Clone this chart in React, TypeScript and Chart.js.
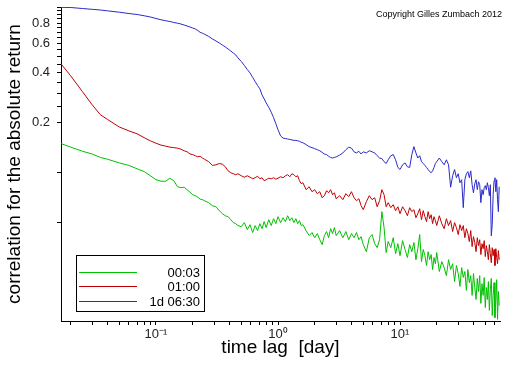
import React, { useEffect, useRef } from "react";
import { Chart, registerables } from "chart.js";

Chart.register(...registerables);

// time lag in days
const LAGS = [
  0.0167, 0.02, 0.025, 0.03, 0.035, 0.04, 0.05, 0.06, 0.07, 0.08,
  0.09, 0.1, 0.11, 0.12, 0.13, 0.14, 0.15, 0.16, 0.17, 0.18,
  0.19, 0.2, 0.21, 0.22, 0.23, 0.24, 0.25, 0.27, 0.29, 0.31,
  0.33, 0.35, 0.37, 0.39, 0.41, 0.43, 0.45, 0.47, 0.5, 0.53,
  0.56, 0.59, 0.62, 0.65, 0.68, 0.71, 0.74, 0.77, 0.8, 0.84,
  0.88, 0.92, 0.96, 1.0, 1.05, 1.1, 1.15, 1.2, 1.25, 1.3,
  1.35, 1.4, 1.45, 1.5, 1.55, 1.6, 1.7, 1.8, 1.9, 2.0,
  2.1, 2.2, 2.3, 2.4, 2.5, 2.6, 2.7, 2.8, 2.9, 3.0,
  3.2, 3.4, 3.6, 3.8, 4.0, 4.2, 4.4, 4.6, 4.8, 5.0,
  5.3, 5.6, 5.9, 6.2, 6.5, 6.8, 7.1, 7.4, 7.7, 8.0,
  8.4, 8.8, 9.2, 9.6, 10, 10.5, 11, 11.5, 12, 12.5,
  13, 13.5, 14, 14.5, 15, 15.5, 16, 16.5, 17, 17.5,
  18, 18.5, 19, 19.5, 20, 21, 22, 23, 24, 25,
  26, 27, 28, 29, 30, 31, 32, 33, 34, 35,
  36, 37, 38, 39, 40, 41, 42, 43, 44, 45,
  46, 47, 48, 49, 50, 51, 52, 53, 54, 55,
  56, 57, 58, 59, 60, 61, 62, 63, 64, 65,
];

const SERIES_LABELS = ["00:03", "01:00", "1d 06:30"];

const CORR_0003 = [
  0.149, 0.142, 0.134, 0.129, 0.123, 0.120, 0.114, 0.110, 0.105, 0.101,
  0.0953, 0.0902, 0.0883, 0.0883, 0.0921, 0.0889, 0.0818, 0.0807, 0.0813, 0.0785,
  0.0758, 0.0732, 0.0722, 0.0707, 0.0688, 0.0683, 0.0673, 0.0655, 0.0628, 0.0619,
  0.0586, 0.0562, 0.0546, 0.0539, 0.0517, 0.0496, 0.0489, 0.0476, 0.0469, 0.0496,
  0.0450, 0.0482, 0.0432, 0.0476, 0.0444, 0.0489, 0.0456, 0.0503, 0.0463, 0.0517,
  0.0476, 0.0524, 0.0489, 0.0539, 0.0496, 0.0531, 0.0503, 0.0546, 0.0510, 0.0531,
  0.0496, 0.0524, 0.0489, 0.0510, 0.0476, 0.0482, 0.0444, 0.0414, 0.0432, 0.0402,
  0.0426, 0.0391, 0.0365, 0.0414, 0.0438, 0.0402, 0.0456, 0.0426, 0.0463, 0.0414,
  0.0444, 0.0402, 0.0438, 0.0391, 0.0426, 0.0402, 0.0432, 0.0391, 0.0408, 0.0365,
  0.0331, 0.0402, 0.0420, 0.0370, 0.0350, 0.0391, 0.0578, 0.0463, 0.0327, 0.0381,
  0.0350, 0.0402, 0.0322, 0.0370, 0.0313, 0.0386, 0.0341, 0.0305, 0.0365, 0.0331,
  0.0376, 0.0296, 0.0345, 0.0420, 0.0288, 0.0341, 0.0313, 0.0273, 0.0331, 0.0296,
  0.0318, 0.0258, 0.0305, 0.0280, 0.0327, 0.0251, 0.0288, 0.0265, 0.0237, 0.0296,
  0.0258, 0.0280, 0.0218, 0.0273, 0.0244, 0.0204, 0.0265, 0.0231, 0.0251, 0.0193,
  0.0258, 0.0215, 0.0237, 0.0180, 0.0244, 0.0201, 0.0170, 0.0228, 0.0190, 0.0237,
  0.0161, 0.0212, 0.0180, 0.0231, 0.0152, 0.0201, 0.0170, 0.0218, 0.0146, 0.0195,
  0.0228, 0.0136, 0.0180, 0.0215, 0.0132, 0.0170, 0.0224, 0.0129, 0.0190, 0.0156,
];

const CORR_0100 = [
  0.452, 0.383, 0.307, 0.256, 0.223, 0.209, 0.188, 0.178, 0.171, 0.162,
  0.155, 0.150, 0.146, 0.144, 0.142, 0.141, 0.140, 0.138, 0.135, 0.133,
  0.129, 0.128, 0.126, 0.124, 0.125, 0.122, 0.120, 0.116, 0.110, 0.111,
  0.113, 0.112, 0.108, 0.102, 0.0994, 0.0980, 0.0967, 0.0980, 0.0953, 0.0934,
  0.0953, 0.0934, 0.0914, 0.0927, 0.0947, 0.0914, 0.0927, 0.0889, 0.0902, 0.0921,
  0.0914, 0.0927, 0.0908, 0.0921, 0.0940, 0.0927, 0.0953, 0.0967, 0.0940, 0.0980,
  0.0967, 0.0940, 0.0953, 0.0889, 0.0853, 0.0865, 0.0785, 0.0818, 0.0763, 0.0785,
  0.0742, 0.0763, 0.0702, 0.0722, 0.0774, 0.0752, 0.0785, 0.0732, 0.0752, 0.0692,
  0.0722, 0.0683, 0.0742, 0.0712, 0.0763, 0.0702, 0.0673, 0.0692, 0.0628, 0.0594,
  0.0664, 0.0722, 0.0683, 0.0702, 0.0619, 0.0673, 0.0785, 0.0732, 0.0619, 0.0655,
  0.0611, 0.0637, 0.0586, 0.0619, 0.0562, 0.0619, 0.0586, 0.0546, 0.0611, 0.0578,
  0.0594, 0.0531, 0.0562, 0.0602, 0.0517, 0.0586, 0.0539, 0.0503, 0.0578, 0.0524,
  0.0554, 0.0489, 0.0539, 0.0510, 0.0476, 0.0546, 0.0489, 0.0456, 0.0524, 0.0476,
  0.0510, 0.0438, 0.0496, 0.0463, 0.0420, 0.0482, 0.0444, 0.0476, 0.0402, 0.0456,
  0.0426, 0.0381, 0.0444, 0.0355, 0.0408, 0.0376, 0.0331, 0.0402, 0.0360, 0.0391,
  0.0318, 0.0370, 0.0345, 0.0386, 0.0309, 0.0360, 0.0331, 0.0296, 0.0365, 0.0322,
  0.0284, 0.0350, 0.0313, 0.0341, 0.0273, 0.0345, 0.0305, 0.0280, 0.0336, 0.0296,
];

const CORR_1D0630 = [
  0.995, 0.993, 0.979, 0.968, 0.959, 0.948, 0.930, 0.913, 0.901, 0.885,
  0.870, 0.852, 0.837, 0.826, 0.817, 0.806, 0.798, 0.789, 0.778, 0.767,
  0.757, 0.746, 0.736, 0.721, 0.703, 0.694, 0.684, 0.664, 0.641, 0.623,
  0.606, 0.589, 0.573, 0.557, 0.542, 0.527, 0.513, 0.492, 0.468, 0.443,
  0.419, 0.399, 0.375, 0.354, 0.335, 0.320, 0.294, 0.278, 0.263, 0.247,
  0.231, 0.214, 0.197, 0.181, 0.166, 0.161, 0.160, 0.159, 0.158, 0.157,
  0.156, 0.156, 0.155, 0.154, 0.152, 0.151, 0.147, 0.143, 0.141, 0.139,
  0.137, 0.135, 0.132, 0.129, 0.128, 0.125, 0.123, 0.122, 0.123, 0.124,
  0.127, 0.131, 0.137, 0.142, 0.140, 0.133, 0.131, 0.134, 0.129, 0.133,
  0.131, 0.135, 0.133, 0.131, 0.126, 0.122, 0.121, 0.116, 0.113, 0.119,
  0.126, 0.128, 0.119, 0.107, 0.104, 0.111, 0.114, 0.108, 0.107, 0.128,
  0.143, 0.131, 0.122, 0.126, 0.116, 0.113, 0.110, 0.107, 0.104, 0.101,
  0.0994, 0.102, 0.107, 0.113, 0.116, 0.122, 0.116, 0.111, 0.119, 0.111,
  0.0812, 0.0953, 0.104, 0.0927, 0.0980, 0.0865, 0.0902, 0.0611, 0.0902, 0.0980,
  0.101, 0.0927, 0.102, 0.0841, 0.0752, 0.0853, 0.0902, 0.0785, 0.0877, 0.0841,
  0.0655, 0.0785, 0.0732, 0.0807, 0.0830, 0.0785, 0.0865, 0.0807, 0.0722, 0.0841,
  0.0413, 0.0482, 0.0732, 0.0889, 0.0927, 0.0763, 0.0902, 0.0683, 0.0578, 0.0818,
];

const SERIES_COLORS = ["#00c000", "#c00000", "#2a2ac8"];

const Y_TICKS = [
  0.05, 0.1, 0.2, 0.25, 0.3, 0.35, 0.4, 0.45, 0.5, 0.55, 0.6, 0.65, 0.7,
  0.75, 0.8, 0.85, 0.9, 0.95, 1.0,
];
const Y_LABELED = [0.2, 0.4, 0.6, 0.8];

const X_TICKS = [
  0.02, 0.03, 0.04, 0.05, 0.06, 0.07, 0.08, 0.09,
  0.1, 0.2, 0.3, 0.4, 0.5, 0.6, 0.7, 0.8, 0.9,
  1, 2, 3, 4, 5, 6, 7, 8, 9,
  10, 20, 30, 40, 50, 60,
];
const X_LABEL_VALUES = [0.1, 1, 10];
const X_LABEL_TEXTS = ["10\u207B\u00B9", "10\u2070", "10\u00B9"];

const X_MIN = 0.01665;
const X_MAX = 66;
const Y_MIN = 0.0126;
const Y_MAX = 1.0;

const X_TITLE = "time lag  [day]";
const Y_TITLE = "correlation for the absolute return";
const COPYRIGHT = "Copyright Gilles Zumbach 2012";

const FONT = '"Liberation Sans", Arial, Helvetica, sans-serif';

const near = (a: number, b: number) => Math.abs(a - b) < 1e-9 * Math.max(1, Math.abs(b));

export default function App() {
  const ref = useRef<HTMLCanvasElement | null>(null);

  useEffect(() => {
    document.body.style.margin = "0";
    const canvas = ref.current;
    if (!canvas) return;

    const decor = {
      id: "decor",
      afterDraw(chart: any) {
        const ctx = chart.ctx as CanvasRenderingContext2D;
        const a = chart.chartArea;
        ctx.save();
        ctx.fillStyle = "#000";
        ctx.textBaseline = "alphabetic";
        ctx.font = `19px ${FONT}`;
        ctx.textAlign = "center";
        ctx.fillText(X_TITLE, (a.left + a.right) / 2, 353);
        ctx.save();
        ctx.translate(20, (a.top + a.bottom) / 2);
        ctx.rotate(-Math.PI / 2);
        ctx.fillText(Y_TITLE, 0, 0);
        ctx.restore();

        ctx.font = `9px ${FONT}`;
        ctx.textAlign = "right";
        ctx.fillText(COPYRIGHT, 502, 17);

        // legend
        const bx = 76, by = 255, bw = 128, bh = 56;
        ctx.fillStyle = "#fff";
        ctx.fillRect(bx, by, bw, bh);
        ctx.strokeStyle = "#000";
        ctx.lineWidth = 1;
        ctx.strokeRect(bx + 0.5, by + 0.5, bw, bh);
        ctx.font = `13px ${FONT}`;
        ctx.textAlign = "right";
        ctx.textBaseline = "middle";
        chart.data.datasets.forEach((ds: any, i: number) => {
          const y = by + 16.5 + i * 14.5;
          ctx.strokeStyle = ds.borderColor;
          ctx.beginPath();
          ctx.moveTo(bx + 3, Math.round(y) + 0.5);
          ctx.lineTo(bx + 61, Math.round(y) + 0.5);
          ctx.stroke();
          ctx.fillStyle = "#000";
          ctx.fillText(ds.label, bx + 124, Math.round(y) + 1);
        });
        ctx.restore();
      },
    };

    const series = [CORR_0003, CORR_0100, CORR_1D0630];
    const chart = new Chart(canvas, {
      type: "line",
      data: {
        datasets: series.map((vals, i) => ({
          label: SERIES_LABELS[i],
          data: LAGS.map((x, j) => ({ x, y: vals[j] })),
          borderColor: SERIES_COLORS[i],
          borderWidth: 1,
          pointRadius: 0,
          tension: 0,
          fill: false,
        })),
      },
      options: {
        responsive: false,
        animation: false,
        devicePixelRatio: 1,
        layout: { padding: { top: 7, right: 12, bottom: 0, left: 0 } },
        plugins: {
          legend: { display: false },
          tooltip: { enabled: false },
          title: { display: false },
        },
        scales: {
          x: {
            type: "logarithmic",
            min: X_MIN,
            max: X_MAX,
            afterFit: (s: any) => {
              s.height = 45;
              s.paddingLeft = 0;
              s.paddingRight = 0;
            },
            afterBuildTicks: (s: any) => {
              s.ticks = X_TICKS.map((v) => ({ value: v }));
            },
            border: { display: true, color: "#000", width: 1 },
            grid: {
              display: true,
              drawOnChartArea: false,
              drawTicks: true,
              tickLength: 4,
              color: "#000",
            },
            ticks: {
              autoSkip: false,
              maxRotation: 0,
              minRotation: 0,
              padding: 2,
              color: "#222",
              font: { family: FONT, size: 13 },
              callback: (v: any) => {
                const idx = X_LABEL_VALUES.findIndex((t) => near(Number(v), t));
                return idx >= 0 ? X_LABEL_TEXTS[idx] : "";
              },
            },
          },
          y: {
            type: "logarithmic",
            min: Y_MIN,
            max: Y_MAX,
            afterFit: (s: any) => {
              s.width = 61;
              s.paddingTop = 0;
              s.paddingBottom = 0;
            },
            afterBuildTicks: (s: any) => {
              s.ticks = Y_TICKS.map((v) => ({ value: v }));
            },
            border: { display: true, color: "#000", width: 1 },
            grid: {
              display: true,
              drawOnChartArea: false,
              drawTicks: true,
              tickLength: 4,
              color: "#000",
            },
            ticks: {
              autoSkip: false,
              padding: 7,
              color: "#222",
              font: { family: FONT, size: 13 },
              callback: (v: any) => {
                const n = Number(v);
                return Y_LABELED.some((t) => near(n, t)) ? String(n) : "";
              },
            },
          },
        },
      },
      plugins: [decor],
    } as any);

    return () => chart.destroy();
  }, []);

  return (
    <div style={{ width: 512, height: 366, background: "#fff" }}>
      <canvas ref={ref} width={512} height={366} style={{ display: "block" }} />
    </div>
  );
}
